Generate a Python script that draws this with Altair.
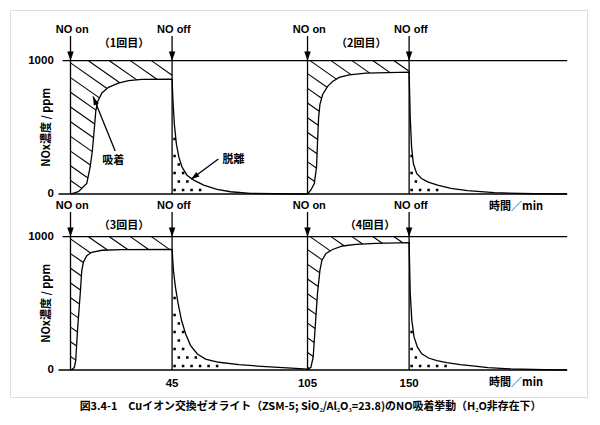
import math
import altair as alt
import numpy as np
import pandas as pd

# ---------------- values ----------------
TIME_TICKS = [45, 105, 150]          # x tick labels (min)
PPM_TICKS = [0, 1000]                # y tick labels (ppm), repeated in both panels
PANEL_SHIFT = [1320, 0]              # upper / lower panel stacked on one y scale
X_DOMAIN = [-26.8, 228.8]
Y_DOMAIN = [-202.5, 2700]
W, H = 577, 387

NO_ON = [0, 105]
NO_OFF = [45, 150]
LINE_START_TOP = -3.5                # 1000 ppm line start (min)
LINE_START_BASE = -5.3               # 0 ppm line start (min)
LINE_END = 220

CYCLE_PANEL = [0, 0, 1, 1]
CYCLE_ON = [0, 105, 0, 105]
CYCLE_OFF = [45, 150, 45, 150]
CYCLE_NAME = ["（1回目）", "（2回目）", "（3回目）", "（4回目）"]
CYCLE_NAME_T = [23.7, 128.8, 23.7, 132.7]
CYCLE_NAME_V = [1125, 1125, 1080, 1080]

# adsorption (NO on) and desorption (NO off) branches, NOx / ppm
ads1_t = [0, 3.5, 7.2, 8.7, 9.7, 10.6, 11.2, 12.1, 13.9, 16.8, 21.2, 25.7, 31.6, 45]
ads1_v = [0, 17, 79, 202, 326, 499, 622, 696, 758, 800, 832, 850, 859, 862]
des1_t = [45, 45.4, 46.0, 46.9, 48.0, 49.4, 51.6, 54.6, 59.0, 64.9, 70.9, 79.7, 99.0, 105]
des1_v = [862, 696, 524, 375, 276, 202, 141, 104, 67, 35, 17, 5, 0, 0]

ads2_t = [105, 106.5, 108.0, 109.0, 109.4, 109.9, 110.5, 111.7, 113.9, 116.1, 119.0, 123.5, 130.9, 150]
ads2_v = [0, 30, 79, 202, 375, 573, 672, 746, 807, 844, 874, 894, 906, 914]
des2_t = [150, 150.5, 151.1, 151.9, 153.4, 155.5, 158.2, 162.6, 168.5, 175.9, 187.7, 205, 220]
des2_v = [914, 573, 350, 227, 153, 116, 91, 67, 42, 25, 10, 2, 0]

ads3_t = [0, 1.0, 1.7, 2.3, 3.2, 4.3, 5.0, 5.7, 7.2, 9.4, 13.9, 22.7, 45]
ads3_v = [0, 8, 20, 70, 320, 570, 746, 808, 858, 883, 898, 903, 905]
des3_t = [45, 45.6, 46.5, 47.7, 49.2, 51.0, 53.2, 56.2, 59.8, 65.7, 74.6, 86.4, 99.7, 105]
des3_v = [905, 746, 620, 495, 371, 270, 183, 120, 82, 58, 40, 25, 12, 6]

ads4_t = [105, 106.5, 107.5, 108.4, 109.4, 110.5, 111.4, 113.2, 116.1, 120.5, 126.4, 135.3, 150]
ads4_v = [0, 20, 96, 322, 573, 749, 824, 874, 904, 930, 942, 950, 955]
des4_t = [150, 150.5, 151.2, 152.2, 153.7, 155.6, 158.6, 162.3, 166.7, 172.6, 177, 185, 195, 210, 220]
des4_v = [955, 573, 372, 246, 171, 121, 90, 71, 56, 41, 33, 18, 8, 2, 0]

ADS = [(ads1_t, ads1_v), (ads2_t, ads2_v), (ads3_t, ads3_v), (ads4_t, ads4_v)]
DES = [(des1_t, des1_v), (des2_t, des2_v), (des3_t, des3_v), (des4_t, des4_v)]

# annotations (upper panel)
NOTE_TEXT = ["吸着", "脱離"]
NOTE_T = [18.9, 72.2]
NOTE_V = [247, 255]
NOTE_TAIL_T = [19.8, 65.5]
NOTE_TAIL_V = [322, 262]
NOTE_TIP_T = [10.0, 53.4]
NOTE_TIP_V = [731, 110]

NO_LABEL_V = 1230
ARROW_TOP_V = 1185
XTITLE_T = 197.4
XTITLE_V = -95
XTICK_LABEL_V = -102            # lower panel only
YTICK_LABEL_T = -7.4            # right edge of the "1000" / "0" labels
YTITLE_T = -10.4
YTITLE_V = 500

CAPTION = "図3.4-1　Cuイオン交換ゼオライト（ZSM-5; SiO₂/Al₂O₃=23.8)のNO吸着挙動（H₂O非存在下）"

FONT_LATIN = "Liberation Sans"
FONT_JP = "Noto Sans CJK JP"

# ---------------- geometry helpers ----------------
PX_PER_MIN = W / (X_DOMAIN[1] - X_DOMAIN[0])
PX_PER_PPM = H / (Y_DOMAIN[1] - Y_DOMAIN[0])

# curves
rows = []
for c in range(4):
    sh = PANEL_SHIFT[CYCLE_PANEL[c]]
    ts = list(ADS[c][0]) + list(DES[c][0])
    vs = list(ADS[c][1]) + list(DES[c][1])
    for i, (t, v) in enumerate(zip(ts, vs)):
        rows.append({"t": t, "y": v + sh, "cycle": c, "i": i})
curve_df = pd.DataFrame(rows)

# hatch lines in the adsorbed area (between 1000 ppm and the curve)
HATCH_SLOPE_PX = 0.7
HATCH_STEP_PX = 21.0
HATCH_PHASE = [7.9, 1.1, 7.9, 1.1]
m = HATCH_SLOPE_PX * PX_PER_MIN / PX_PER_PPM
step = HATCH_STEP_PX / PX_PER_MIN
hrows = []
for c in range(4):
    sh = PANEL_SHIFT[CYCLE_PANEL[c]]
    ton, toff = CYCLE_ON[c], CYCLE_OFF[c]
    grid = np.linspace(ton, toff, 6000)
    cur = np.interp(grid, ADS[c][0], ADS[c][1])
    s = ton + HATCH_PHASE[c]
    while s - step > ton - 1000.0 / m:
        s -= step
    while s < toff:
        line = 1000 - m * (grid - s)
        inside = (line <= 1000.0001) & (line > cur)
        idx = np.where(inside)[0]
        if len(idx) > 1:
            i0 = idx[0]
            i1 = i0
            while i1 + 1 < len(grid) and inside[i1 + 1]:
                i1 += 1
            if (grid[i1] - grid[i0]) * PX_PER_MIN > 1.5:
                hrows.append({"t": grid[i0], "t2": grid[i1],
                              "y": line[i0] + sh, "y2": line[i1] + sh})
        s += step
hatch_df = pd.DataFrame(hrows)

# stipple in the desorbed area (under the curve after NO off)
DOT_STEP_PX = 8.5
DOT_END = [71, 170, 72, 177]
drows = []
for c in range(4):
    sh = PANEL_SHIFT[CYCLE_PANEL[c]]
    toff = CYCLE_OFF[c]
    dt = DOT_STEP_PX / PX_PER_MIN
    dv = DOT_STEP_PX / PX_PER_PPM
    margin = 3.5 / PX_PER_PPM
    j = 0
    v = 4.0 / PX_PER_PPM
    while v < 1000:
        t = toff + 2.5 / PX_PER_MIN + (j % 2) * dt / 2
        while t < DOT_END[c]:
            cv = np.interp(t, DES[c][0], DES[c][1])
            if v < cv - margin:
                drows.append({"t": t, "y": v + sh})
            t += dt
        v += dv
        j += 1
dots_df = pd.DataFrame(drows)

# horizontal lines (1000 ppm and 0 ppm), one pair per panel
hl = []
for p in range(2):
    hl.append({"t": LINE_START_TOP, "t2": LINE_END, "y": 1000 + PANEL_SHIFT[p]})
    hl.append({"t": LINE_START_BASE, "t2": LINE_END, "y": 0 + PANEL_SHIFT[p]})
hl_df = pd.DataFrame(hl)

# NO on / off arrows
arr, tri, lab = [], [], []
for p in range(2):
    sh = PANEL_SHIFT[p]
    for t, txt in [(NO_ON[0], "NO on"), (NO_OFF[0], "NO off"), (NO_ON[1], "NO on"), (NO_OFF[1], "NO off")]:
        arr.append({"t": t, "y": ARROW_TOP_V + sh, "y2": 0 + sh})
        tri.append({"t": t, "y": 1000 + sh})
        lab.append({"t": t + 0.8, "y": NO_LABEL_V + sh, "text": txt})
arr_df = pd.DataFrame(arr)
tri_df = pd.DataFrame(tri)
lab_df = pd.DataFrame(lab)

# tick labels
ytick_df = pd.DataFrame([{"t": YTICK_LABEL_T, "y": v + PANEL_SHIFT[p], "text": str(v)}
                         for p in range(2) for v in PPM_TICKS])
xtick_df = pd.DataFrame([{"t": t, "y": XTICK_LABEL_V + PANEL_SHIFT[1], "text": str(t)}
                         for t in TIME_TICKS])

name_df = pd.DataFrame({"t": CYCLE_NAME_T,
                        "y": [v + PANEL_SHIFT[CYCLE_PANEL[i]] for i, v in enumerate(CYCLE_NAME_V)],
                        "text": CYCLE_NAME})
xt_df = pd.DataFrame({"t": [XTITLE_T, XTITLE_T],
                      "y": [XTITLE_V + PANEL_SHIFT[0], XTITLE_V + PANEL_SHIFT[1]],
                      "text": ["時間／min", "時間／min"]})
yt_df = pd.DataFrame({"t": [YTITLE_T, YTITLE_T],
                      "y": [YTITLE_V + PANEL_SHIFT[0], YTITLE_V + PANEL_SHIFT[1]],
                      "text": ["NOx濃度 / ppm", "NOx濃度 / ppm"]})

note_df = pd.DataFrame({"t": NOTE_T, "y": [v + PANEL_SHIFT[0] for v in NOTE_V], "text": NOTE_TEXT})
nl = []
for i in range(2):
    nl.append({"t": NOTE_TAIL_T[i], "t2": NOTE_TIP_T[i],
               "y": NOTE_TAIL_V[i] + PANEL_SHIFT[0], "y2": NOTE_TIP_V[i] + PANEL_SHIFT[0]})
nl_df = pd.DataFrame(nl)
nh = []
for i in range(2):
    dxp = (NOTE_TIP_T[i] - NOTE_TAIL_T[i]) * PX_PER_MIN
    dyp = -(NOTE_TIP_V[i] - NOTE_TAIL_V[i]) * PX_PER_PPM
    ang = math.degrees(math.atan2(dxp, -dyp)) % 360
    nh.append({"t": NOTE_TIP_T[i], "y": NOTE_TIP_V[i] + PANEL_SHIFT[0], "angle": ang})
nh_df = pd.DataFrame(nh)

# ---------------- chart ----------------
XS = alt.Scale(domain=X_DOMAIN, nice=False, zero=False)
YS = alt.Scale(domain=Y_DOMAIN, nice=False, zero=False)


def ex(f="t"):
    return alt.X(f"{f}:Q", scale=XS, axis=None, title=None)


def ey(f="y"):
    return alt.Y(f"{f}:Q", scale=YS, axis=None, title=None)


hlines = alt.Chart(hl_df).mark_rule(color="black", strokeWidth=1.3).encode(
    x=ex(), x2="t2:Q", y=ey())

hatch = alt.Chart(hatch_df).mark_rule(color="black", strokeWidth=1.1).encode(
    x=ex(), x2="t2:Q", y=ey(), y2="y2:Q")

dots = alt.Chart(dots_df).mark_point(shape="square", filled=True, size=6.5, color="black",
                                     opacity=1, strokeWidth=0).encode(x=ex(), y=ey())

curves = alt.Chart(curve_df).mark_line(color="black", strokeWidth=1.3).encode(
    x=ex(), y=ey(), detail="cycle:N", order="i:Q")

arrows = alt.Chart(arr_df).mark_rule(color="black", strokeWidth=1.3).encode(
    x=ex(), y=ey(), y2="y2:Q")

tris = alt.Chart(tri_df).mark_point(shape="M-0.7,-2L0.7,-2L0,0Z", filled=True, size=86,
                                    color="black", opacity=1, strokeWidth=0).encode(x=ex(), y=ey())

no_labels = alt.Chart(lab_df).mark_text(font=FONT_LATIN, fontSize=11, fontWeight="bold",
                                        color="black", align="center", baseline="middle").encode(
    x=ex(), y=ey(), text="text:N")

yticks = alt.Chart(ytick_df).mark_text(font=FONT_LATIN, fontSize=11.5, fontWeight="bold",
                                       color="black", align="right", baseline="middle").encode(
    x=ex(), y=ey(), text="text:N")

xticks = alt.Chart(xtick_df).mark_text(font=FONT_LATIN, fontSize=11.5, fontWeight="bold",
                                       color="black", align="center", baseline="middle").encode(
    x=ex(), y=ey(), text="text:N")

names = alt.Chart(name_df).mark_text(font=FONT_JP, fontSize=11, fontWeight="bold", color="black",
                                     align="center", baseline="middle").encode(
    x=ex(), y=ey(), text="text:N")

xtitles = alt.Chart(xt_df).mark_text(font=FONT_JP, fontSize=11, fontWeight="bold", color="black",
                                     align="center", baseline="middle").encode(
    x=ex(), y=ey(), text="text:N")

ytitles = alt.Chart(yt_df).mark_text(font=FONT_JP, fontSize=11, fontWeight="bold", color="black",
                                     align="center", baseline="middle", angle=270).encode(
    x=ex(), y=ey(), text="text:N")

notes = alt.Chart(note_df).mark_text(font=FONT_JP, fontSize=11, fontWeight="bold", color="black",
                                     align="center", baseline="middle").encode(
    x=ex(), y=ey(), text="text:N")

note_lines = alt.Chart(nl_df).mark_rule(color="black", strokeWidth=1.3).encode(
    x=ex(), x2="t2:Q", y=ey(), y2="y2:Q")

note_heads = alt.Chart(nh_df).mark_point(shape="M0,0L-0.6,1.9L0.6,1.9Z", filled=True, size=80,
                                         color="black", opacity=1, strokeWidth=0).encode(
    x=ex(), y=ey(), angle=alt.Angle("angle:Q", scale=None))

chart = alt.layer(
    hlines, hatch, dots, curves, arrows, tris, no_labels, yticks, xticks, names, xtitles,
    ytitles, notes, note_lines, note_heads
).properties(
    width=W, height=H,
    padding={"left": 2, "top": 2, "right": 5, "bottom": 5},
    title=alt.TitleParams(text=CAPTION, orient="bottom", anchor="middle", dx=12, offset=4,
                          font=FONT_JP, fontSize=10.9, fontWeight="bold", color="black"),
).configure_view(
    stroke="black", strokeWidth=1.5
).configure(background="white")

chart.save("out.html", embed_options={"renderer": "svg", "actions": False})
